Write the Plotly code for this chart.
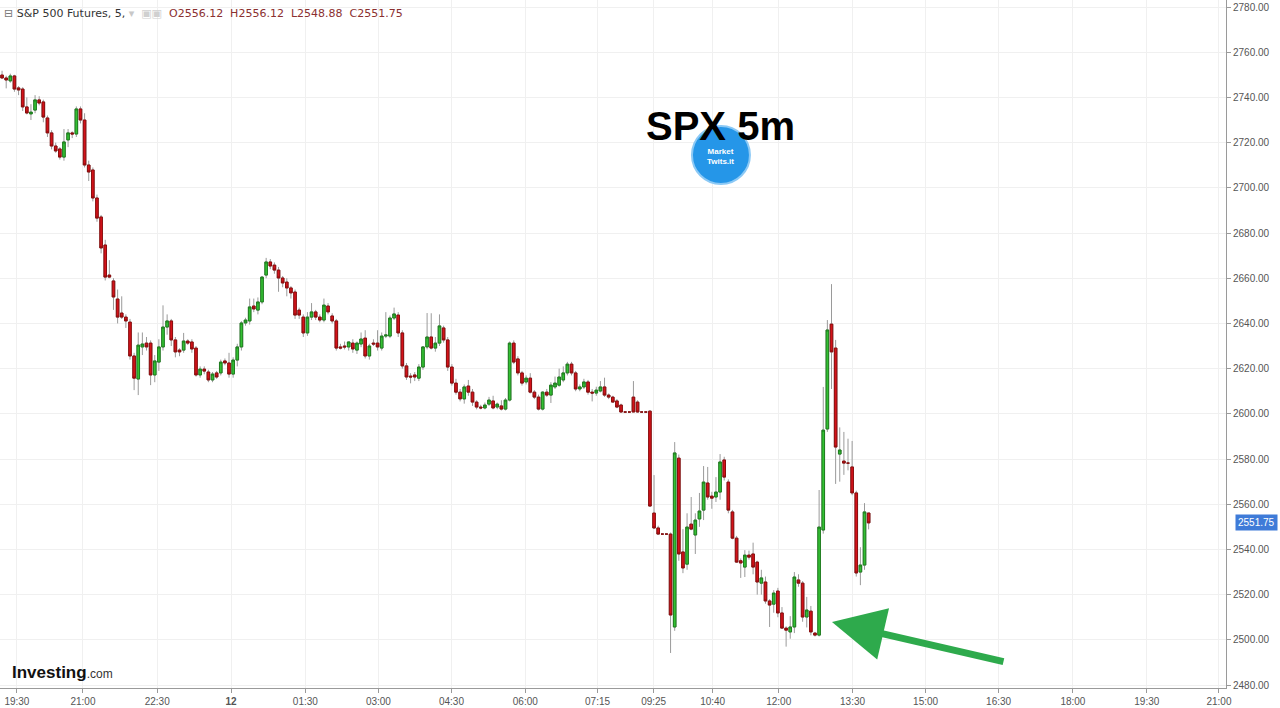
import plotly.graph_objects as go

# ---- data (5-minute candles, S&P 500 futures) ----
opens = [2749.9, 2748.6, 2747.3, 2749.5, 2744.2, 2743.7, 2735.8, 2732.7, 2734.4, 2738.9,
         2738.0, 2730.9, 2724.3, 2718.5, 2717.2, 2713.6, 2721.2, 2724.3, 2723.8, 2734.9,
         2730.0, 2710.1, 2707.9, 2695.5, 2687.1, 2674.7, 2661.4, 2658.8, 2650.8, 2644.6,
         2642.8, 2640.6, 2625.6, 2615.4, 2629.6, 2631.3, 2631.3, 2617.2, 2622.9, 2629.6,
         2638.4, 2641.1, 2632.7, 2628.2, 2628.2, 2632.2, 2631.8, 2629.1, 2617.2, 2619.8,
         2618.5, 2615.0, 2618.1, 2618.1, 2623.4, 2622.5, 2617.6, 2623.8, 2629.6, 2640.2,
         2641.1, 2647.7, 2645.9, 2649.5, 2661.4, 2667.2, 2665.8, 2663.6, 2660.1, 2658.3,
         2655.7, 2653.9, 2645.9, 2642.8, 2635.8, 2642.8, 2645.1, 2642.8, 2641.5, 2647.7,
         2643.3, 2641.1, 2629.6, 2630.0, 2629.6, 2631.3, 2628.2, 2630.9, 2633.5, 2625.6,
         2631.3, 2631.3, 2629.1, 2634.4, 2634.4, 2642.4, 2643.7, 2635.8, 2621.2, 2616.7,
         2617.2, 2615.8, 2620.7, 2629.6, 2634.0, 2629.1, 2631.3, 2638.0, 2632.7, 2620.7,
         2613.6, 2609.6, 2606.6, 2612.3, 2609.6, 2605.2, 2603.0, 2602.6, 2604.3, 2605.7,
         2603.0, 2603.5, 2602.1, 2606.1, 2631.3, 2624.3, 2618.1, 2614.1, 2615.8, 2609.6,
         2607.4, 2602.1, 2609.6, 2608.3, 2611.9, 2612.7, 2615.0, 2618.1, 2622.0, 2618.1,
         2611.0, 2611.9, 2614.1, 2609.6, 2609.2, 2610.1, 2611.9, 2608.3, 2607.4, 2605.7,
         2603.9, 2600.8, 2600.8, 2607.4, 2605.2, 2600.8, 2600.8, 2601.2, 2556.1, 2549.5,
         2546.8, 2546.8, 2546.8, 2505.7, 2580.4, 2538.9, 2533.5, 2551.2, 2546.4, 2553.5,
         2557.4, 2569.4, 2563.6, 2563.2, 2565.4, 2579.6, 2569.8, 2556.6, 2545.0, 2535.0,
         2532.2, 2537.5, 2538.0, 2534.4, 2525.1, 2525.6, 2517.2, 2515.8, 2521.6, 2511.9,
         2505.2, 2503.5, 2505.7, 2526.5, 2525.1, 2510.1, 2512.7, 2503.0, 2502.1, 2548.6,
         2593.3, 2639.7, 2629.1, 2582.2, 2579.1, 2578.2, 2576.5, 2565.0, 2530.0, 2533.1,
         2556.12]
highs = [2751.8, 2749.6, 2750.5, 2750.0, 2745.0, 2744.5, 2740.0, 2737.0, 2741.0, 2740.5,
         2739.0, 2732.0, 2725.5, 2720.0, 2718.0, 2726.0, 2726.0, 2725.0, 2736.0, 2736.0,
         2733.0, 2712.0, 2709.0, 2697.0, 2688.0, 2677.0, 2668.0, 2660.0, 2655.0, 2652.0,
         2644.0, 2642.0, 2627.0, 2636.0, 2636.0, 2634.0, 2632.5, 2626.0, 2633.0, 2648.0,
         2644.0, 2642.0, 2634.0, 2629.0, 2635.8, 2633.0, 2633.0, 2630.0, 2621.0, 2621.0,
         2619.5, 2618.5, 2619.0, 2624.0, 2624.5, 2627.0, 2625.0, 2631.0, 2641.0, 2642.5,
         2651.0, 2651.0, 2651.5, 2661.0, 2669.0, 2668.5, 2667.0, 2665.0, 2661.0, 2660.0,
         2656.5, 2655.0, 2647.0, 2644.0, 2645.0, 2649.0, 2646.0, 2644.0, 2651.0, 2649.0,
         2644.5, 2642.0, 2631.0, 2632.0, 2632.0, 2633.0, 2632.0, 2636.0, 2637.0, 2631.0,
         2633.0, 2637.0, 2636.0, 2645.0, 2643.5, 2647.0, 2645.0, 2637.0, 2622.5, 2618.0,
         2618.5, 2622.0, 2630.0, 2644.6, 2644.5, 2634.0, 2644.0, 2639.0, 2634.0, 2622.0,
         2615.5, 2611.0, 2613.0, 2615.0, 2611.0, 2606.0, 2604.0, 2605.0, 2607.5, 2608.0,
         2605.0, 2606.0, 2607.0, 2632.0, 2632.5, 2625.5, 2619.0, 2617.0, 2618.0, 2610.5,
         2608.5, 2610.0, 2611.0, 2614.0, 2616.5, 2620.0, 2621.0, 2623.0, 2623.0, 2619.0,
         2613.0, 2615.5, 2615.0, 2611.0, 2612.0, 2614.5, 2616.0, 2609.0, 2608.0, 2606.5,
         2604.5, 2600.8, 2600.8, 2614.5, 2606.0, 2600.8, 2600.8, 2601.5, 2572.9, 2550.5,
         2546.8, 2546.8, 2547.5, 2587.5, 2582.0, 2549.0, 2556.0, 2563.2, 2556.0, 2565.0,
         2576.9, 2576.5, 2565.5, 2572.0, 2582.2, 2581.0, 2571.0, 2557.5, 2546.0, 2536.0,
         2539.7, 2539.5, 2543.0, 2535.0, 2531.0, 2528.0, 2518.0, 2522.0, 2523.0, 2514.5,
         2506.0, 2510.5, 2530.0, 2529.0, 2526.0, 2519.0, 2515.0, 2503.5, 2566.3, 2611.9,
         2641.5, 2657.4, 2632.7, 2594.0, 2592.0, 2589.0, 2588.0, 2566.0, 2541.0, 2560.5,
         2556.12]
lows = [2748.2, 2744.0, 2746.5, 2742.5, 2741.0, 2734.0, 2732.5, 2730.0, 2733.0, 2736.5,
        2729.0, 2722.5, 2717.0, 2715.5, 2712.5, 2712.0, 2718.0, 2722.0, 2722.5, 2728.5,
        2709.0, 2703.0, 2694.0, 2685.0, 2671.0, 2659.0, 2660.0, 2646.0, 2640.0, 2642.0,
        2638.0, 2624.0, 2610.5, 2608.3, 2626.0, 2628.0, 2612.7, 2614.0, 2619.0, 2628.0,
        2635.0, 2630.0, 2625.0, 2625.5, 2627.0, 2630.5, 2627.0, 2616.5, 2616.0, 2617.5,
        2614.0, 2614.0, 2615.5, 2617.0, 2621.5, 2616.0, 2616.0, 2621.0, 2628.0, 2639.0,
        2639.5, 2645.0, 2644.0, 2648.5, 2660.0, 2664.0, 2662.0, 2654.0, 2656.0, 2652.0,
        2651.0, 2642.0, 2642.0, 2634.0, 2634.5, 2641.5, 2641.5, 2640.5, 2640.5, 2644.0,
        2640.0, 2628.0, 2628.5, 2628.5, 2628.0, 2627.0, 2626.5, 2629.5, 2624.5, 2624.0,
        2630.0, 2628.0, 2628.0, 2633.5, 2633.5, 2641.5, 2634.0, 2620.0, 2615.0, 2613.5,
        2614.5, 2614.5, 2619.5, 2628.5, 2628.5, 2627.5, 2630.0, 2631.5, 2619.0, 2612.5,
        2608.5, 2605.5, 2604.5, 2608.0, 2603.5, 2602.0, 2602.0, 2602.0, 2603.5, 2602.0,
        2602.0, 2601.5, 2601.5, 2605.5, 2622.0, 2617.0, 2612.5, 2613.0, 2609.0, 2606.5,
        2601.5, 2601.5, 2607.5, 2604.8, 2611.0, 2612.0, 2614.0, 2617.0, 2617.0, 2610.0,
        2610.0, 2611.0, 2608.5, 2605.5, 2608.0, 2609.5, 2607.5, 2606.5, 2605.0, 2602.5,
        2600.5, 2600.8, 2600.8, 2600.8, 2600.5, 2600.8, 2600.8, 2559.0, 2549.0, 2546.5,
        2546.8, 2546.8, 2494.2, 2504.0, 2535.0, 2529.5, 2531.0, 2548.5, 2538.0, 2550.0,
        2553.0, 2562.0, 2558.0, 2561.0, 2562.0, 2570.5, 2556.0, 2544.5, 2534.0, 2527.4,
        2527.8, 2535.5, 2529.0, 2520.0, 2520.0, 2516.0, 2505.7, 2512.0, 2510.0, 2505.0,
        2497.0, 2500.5, 2503.0, 2523.5, 2508.0, 2505.5, 2502.0, 2501.5, 2501.5, 2547.0,
        2592.0, 2611.0, 2569.0, 2570.0, 2573.0, 2575.0, 2564.0, 2528.0, 2524.2, 2531.0,
        2548.88]
closes = [2748.6, 2747.7, 2749.5, 2743.7, 2743.3, 2735.8, 2733.1, 2733.5, 2738.9, 2737.5,
          2731.3, 2724.3, 2718.5, 2716.3, 2713.6, 2720.3, 2724.3, 2723.8, 2734.9, 2730.0,
          2710.1, 2707.0, 2695.5, 2686.6, 2673.4, 2660.5, 2660.5, 2651.7, 2642.8, 2642.8,
          2641.1, 2625.6, 2615.8, 2630.4, 2630.9, 2629.6, 2617.2, 2623.4, 2629.6, 2638.4,
          2641.1, 2632.7, 2627.4, 2627.4, 2632.2, 2631.3, 2628.7, 2617.2, 2619.8, 2618.9,
          2615.0, 2617.6, 2616.3, 2622.9, 2622.5, 2617.6, 2623.8, 2629.6, 2640.2, 2641.5,
          2647.3, 2646.4, 2649.5, 2660.5, 2667.2, 2665.4, 2663.6, 2660.1, 2657.9, 2655.7,
          2653.5, 2643.7, 2643.7, 2635.8, 2642.8, 2645.1, 2642.8, 2641.5, 2648.1, 2645.1,
          2641.1, 2629.1, 2629.1, 2629.6, 2631.8, 2628.7, 2631.3, 2633.1, 2625.6, 2630.0,
          2630.9, 2629.6, 2634.4, 2634.9, 2642.4, 2644.2, 2635.8, 2621.2, 2616.3, 2616.3,
          2616.3, 2620.7, 2629.6, 2634.0, 2629.1, 2631.3, 2638.9, 2632.7, 2620.7, 2613.6,
          2609.6, 2606.6, 2611.9, 2609.6, 2605.2, 2603.0, 2602.6, 2603.9, 2606.1, 2602.6,
          2604.3, 2602.1, 2606.1, 2631.3, 2622.9, 2618.1, 2613.6, 2615.8, 2609.6, 2607.4,
          2602.1, 2609.6, 2608.3, 2612.7, 2613.6, 2616.3, 2618.1, 2622.0, 2618.1, 2611.0,
          2611.9, 2614.1, 2609.6, 2609.2, 2610.5, 2611.9, 2608.3, 2607.4, 2605.2, 2603.0,
          2600.8, 2600.8, 2600.8, 2600.8, 2600.8, 2600.8, 2600.8, 2559.2, 2549.5, 2546.8,
          2546.8, 2546.8, 2511.0, 2582.7, 2538.0, 2531.8, 2549.9, 2549.0, 2553.0, 2557.0,
          2569.8, 2563.2, 2562.7, 2565.4, 2578.7, 2572.0, 2557.4, 2545.0, 2534.4, 2534.0,
          2537.5, 2536.6, 2532.2, 2525.6, 2527.4, 2517.2, 2515.4, 2520.7, 2511.9, 2505.2,
          2504.3, 2505.7, 2527.8, 2525.1, 2510.1, 2513.2, 2503.5, 2502.1, 2549.9, 2592.8,
          2637.1, 2627.4, 2585.3, 2584.0, 2578.2, 2578.2, 2565.0, 2529.6, 2533.1, 2556.6,
          2551.75]

tick_slots = [3.6, 19.6, 37.6, 55.5, 73.5, 91.2, 108.9, 126.8, 144.3, 157.9,
              172.2, 188.2, 206.1, 223.8, 241.5, 259.5, 277.4, 294.9]
tick_labels = ["19:30", "21:00", "22:30", "<b>12</b>", "01:30", "03:00", "04:30", "06:00",
               "07:15", "09:25", "10:40", "12:00", "13:30", "15:00", "16:30", "18:00",
               "19:30", "21:00"]

instrument = "S&amp;P 500 Futures, 5,"
chart_title = "SPX 5m"

# ---- figure ----
xs = list(range(len(closes)))
body_hi = [max(o, c) for o, c in zip(opens, closes)]
body_lo = [min(o, c) for o, c in zip(opens, closes)]

GREEN_FILL, GREEN_LINE = "#33c033", "#1e7d1e"
RED_FILL, RED_LINE = "#d4121a", "#8a0d0d"
WICK = "#9a9a9a"

fig = go.Figure()
# wicks
fig.add_trace(go.Candlestick(
    x=xs, open=opens, high=highs, low=lows, close=closes,
    increasing=dict(line=dict(color=WICK, width=1), fillcolor=WICK),
    decreasing=dict(line=dict(color=WICK, width=1), fillcolor=WICK),
    showlegend=False, hoverinfo="skip"))
# bodies
fig.add_trace(go.Candlestick(
    x=xs, open=opens, high=body_hi, low=body_lo, close=closes,
    increasing=dict(line=dict(color=GREEN_LINE, width=1), fillcolor=GREEN_FILL),
    decreasing=dict(line=dict(color=RED_LINE, width=1), fillcolor=RED_FILL),
    showlegend=False))

axis_font = dict(family="Liberation Sans, Arial, sans-serif", size=10, color="#555")

fig.update_layout(
    width=1280, height=708,
    margin=dict(l=0, r=54, t=0, b=20),
    paper_bgcolor="white", plot_bgcolor="white",
    boxgap=0.1,
    showlegend=False,
    xaxis=dict(
        range=[-0.5, 296.6], rangeslider=dict(visible=False),
        tickmode="array", tickvals=tick_slots, ticktext=tick_labels,
        showgrid=True, gridcolor="#f0f0f0", gridwidth=1,
        showline=True, linecolor="#9a9a9a", linewidth=1,
        ticks="outside", ticklen=4, tickcolor="#9a9a9a",
        tickfont=axis_font, zeroline=False, fixedrange=True,
    ),
    yaxis=dict(
        side="right", range=[2478.7, 2783.1],
        dtick=20, tick0=2480, tickformat=".2f",
        showgrid=True, gridcolor="#f0f0f0", gridwidth=1,
        showline=True, linecolor="#9a9a9a", linewidth=1,
        ticks="outside", ticklen=4, tickcolor="#9a9a9a",
        tickfont=axis_font, zeroline=False,
    ),
)

# header line
ohlc_txt = "O{:.2f}\u00a0\u00a0H{:.2f}\u00a0\u00a0L{:.2f}\u00a0\u00a0C{:.2f}".format(
    opens[-1], highs[-1], lows[-1], closes[-1])
fig.add_annotation(
    xref="paper", yref="paper", x=0.002, y=0.981, xanchor="left", yanchor="middle",
    showarrow=False, align="left",
    text=("<span style='color:#777'>⊟</span> " + instrument +
          " <span style='color:#c8c8c8'>▾</span>\u00a0\u00a0"
          "<span style='color:#d0d0d0'>▣▣</span>\u00a0\u00a0"
          "<span style='color:#8b3030'>" + ohlc_txt + "</span>"),
    font=dict(family="DejaVu Sans, sans-serif", size=11, color="#333"))

# last price tag
fig.add_annotation(
    xref="paper", yref="y", x=1, y=closes[-1], xanchor="left", yanchor="middle",
    xshift=9, showarrow=False, text="{:.2f}".format(closes[-1]),
    bgcolor="#3f7bd8", borderpad=2,
    font=dict(family="Liberation Sans, Arial, sans-serif", size=10, color="white"))

# title
fig.add_annotation(
    xref="paper", yref="paper", x=0.5875, y=0.817, xanchor="center", yanchor="middle",
    showarrow=False, text="<b>" + chart_title + "</b>",
    font=dict(family="Liberation Sans, Arial, sans-serif", size=40, color="#000"))

# logo circle
fig.add_shape(type="circle", xref="paper", yref="paper",
              x0=0.5644, x1=0.6117, y0=0.7326, y1=0.8169,
              fillcolor="#2596e8", line=dict(color="#8cc9f5", width=2), layer="above")
fig.add_annotation(
    xref="paper", yref="paper", x=0.588, y=0.772, xanchor="center", yanchor="middle",
    showarrow=False, text="<b>Market<br>Twits.it</b>",
    font=dict(family="Liberation Sans, Arial, sans-serif", size=8, color="white"))

# Investing.com watermark
fig.add_annotation(
    xref="paper", yref="paper", x=0.008, y=0.023, xanchor="left", yanchor="middle",
    showarrow=False,
    text="<b>Investing</b><span style='font-size:12px;color:#333'>.com</span>",
    font=dict(family="Liberation Sans, Arial, sans-serif", size=17, color="#111"))

# green arrow
fig.add_annotation(
    xref="paper", yref="paper", x=0.6786, y=0.0959,
    axref="pixel", ayref="pixel", ax=173, ay=40,
    showarrow=True, arrowhead=2, arrowsize=1.5, arrowwidth=7,
    arrowcolor="#2eaa4c", text="")

fig.write_html("out.html",
               config={"displayModeBar": False},
               post_script="document.body.style.margin='0';document.body.style.overflow='hidden';")
